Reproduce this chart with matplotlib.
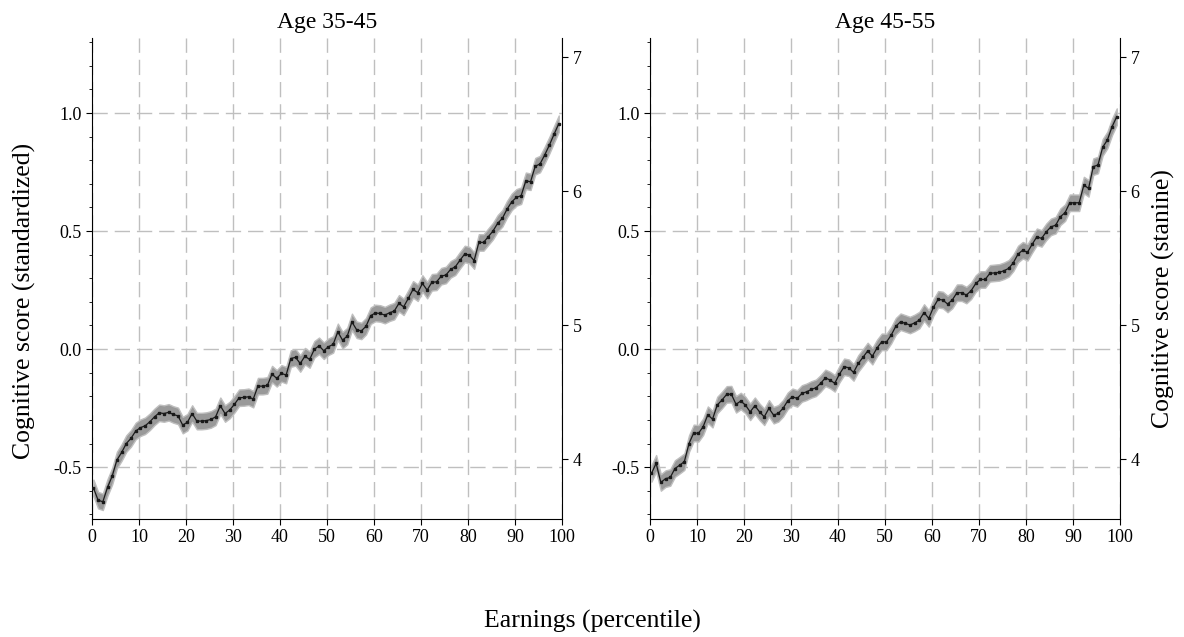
import numpy as np
import matplotlib
matplotlib.use('Agg')
import matplotlib.pyplot as plt
from matplotlib.ticker import MultipleLocator

plt.rcParams['font.family'] = 'Liberation Serif'
plt.rcParams['axes.unicode_minus'] = False

# cognitive score (standardized) by earnings percentile, one value per percentile bin
age_35_45 = [
    -0.588, -0.640, -0.647, -0.586, -0.538, -0.470, -0.438, -0.400, -0.378, -0.347,
    -0.333, -0.325, -0.308, -0.287, -0.270, -0.273, -0.268, -0.277, -0.283, -0.322,
    -0.310, -0.273, -0.305, -0.305, -0.303, -0.298, -0.287, -0.240, -0.273, -0.258,
    -0.234, -0.206, -0.205, -0.202, -0.212, -0.157, -0.157, -0.154, -0.106, -0.124,
    -0.103, -0.110, -0.040, -0.035, -0.061, -0.030, -0.044, -0.001, 0.014, -0.007,
    0.010, 0.020, 0.073, 0.038, 0.055, 0.115, 0.082, 0.077, 0.097, 0.142,
    0.153, 0.151, 0.144, 0.154, 0.161, 0.194, 0.179, 0.215, 0.253, 0.239,
    0.278, 0.250, 0.283, 0.285, 0.309, 0.314, 0.338, 0.349, 0.377, 0.403,
    0.398, 0.375, 0.452, 0.452, 0.476, 0.500, 0.533, 0.554, 0.593, 0.624,
    0.643, 0.650, 0.713, 0.709, 0.775, 0.784, 0.822, 0.864, 0.910, 0.955,
]
age_45_55 = [
    -0.527, -0.484, -0.565, -0.549, -0.544, -0.506, -0.492, -0.477, -0.400, -0.355,
    -0.357, -0.329, -0.278, -0.297, -0.237, -0.216, -0.192, -0.191, -0.234, -0.220,
    -0.237, -0.266, -0.240, -0.266, -0.287, -0.251, -0.280, -0.272, -0.251, -0.219,
    -0.202, -0.209, -0.188, -0.181, -0.171, -0.164, -0.145, -0.122, -0.131, -0.145,
    -0.106, -0.075, -0.079, -0.099, -0.061, -0.035, -0.008, -0.030, 0.005, 0.031,
    0.030, 0.059, 0.097, 0.116, 0.109, 0.102, 0.111, 0.123, 0.155, 0.130,
    0.177, 0.211, 0.208, 0.191, 0.208, 0.239, 0.239, 0.229, 0.247, 0.278,
    0.295, 0.295, 0.321, 0.323, 0.325, 0.332, 0.342, 0.366, 0.403, 0.419,
    0.410, 0.444, 0.476, 0.469, 0.497, 0.518, 0.525, 0.561, 0.578, 0.620,
    0.620, 0.620, 0.695, 0.681, 0.773, 0.780, 0.855, 0.886, 0.942, 0.985,
]
ci_half = 0.035
titles = ['Age 35-45', 'Age 45-55']
stanine_ticks = [4, 5, 6, 7]


def plot_panel(ax, values, title):
    pct = np.arange(len(values)) + 0.3
    values = np.array(values)
    ax.fill_between(pct, values - ci_half, values + ci_half, facecolor='0.6',
                    edgecolor='0.75', linewidth=1.0, zorder=2)
    ax.plot(pct, values, color='#1a1a1a', lw=0.9, marker='s', ms=1.7, zorder=3)
    ax.set_xlim(0, 100)
    ax.set_ylim(-0.72, 1.318)
    ax.set_xticks(range(0, 101, 10))
    ax.set_yticks([-0.5, 0.0, 0.5, 1.0])
    ax.yaxis.set_minor_locator(MultipleLocator(0.1))
    ax.tick_params(axis='both', which='major', labelsize=13, length=4)
    ax.tick_params(axis='y', which='minor', length=2.5)
    ax.grid(True, which='major', color='0.75', lw=1.0, linestyle=(0, (11, 5)))
    ax.set_axisbelow(True)
    ax.spines['top'].set_visible(False)
    ax.spines['right'].set_visible(False)
    ax.set_title(title, fontsize=17, pad=7)

    ax2 = ax.twinx()
    ax2.set_ylim(3.552, 7.142)
    ax2.set_yticks(stanine_ticks)
    ax2.tick_params(axis='y', labelsize=13, length=4)
    for s in ['top', 'left', 'bottom']:
        ax2.spines[s].set_visible(False)
    return ax2


def main():
    fig = plt.figure(figsize=(11.84, 6.37), dpi=100)
    ax_a = fig.add_axes([0.0777, 0.1852, 0.397, 0.7551])
    ax_b = fig.add_axes([0.549, 0.1852, 0.397, 0.7551])
    plot_panel(ax_a, age_35_45, titles[0])
    plot_panel(ax_b, age_45_55, titles[1])

    fig.text(0.021, 0.527, 'Cognitive score (standardized)', rotation=90,
             ha='center', va='center', fontsize=18.5)
    fig.text(0.983, 0.532, 'Cognitive score (stanine)', rotation=90,
             ha='center', va='center', fontsize=18.5)
    fig.text(0.5, 0.024, 'Earnings (percentile)', ha='center', va='center',
             fontsize=18.5)

    fig.savefig('out.png', dpi=100)


if __name__ == '__main__':
    main()
